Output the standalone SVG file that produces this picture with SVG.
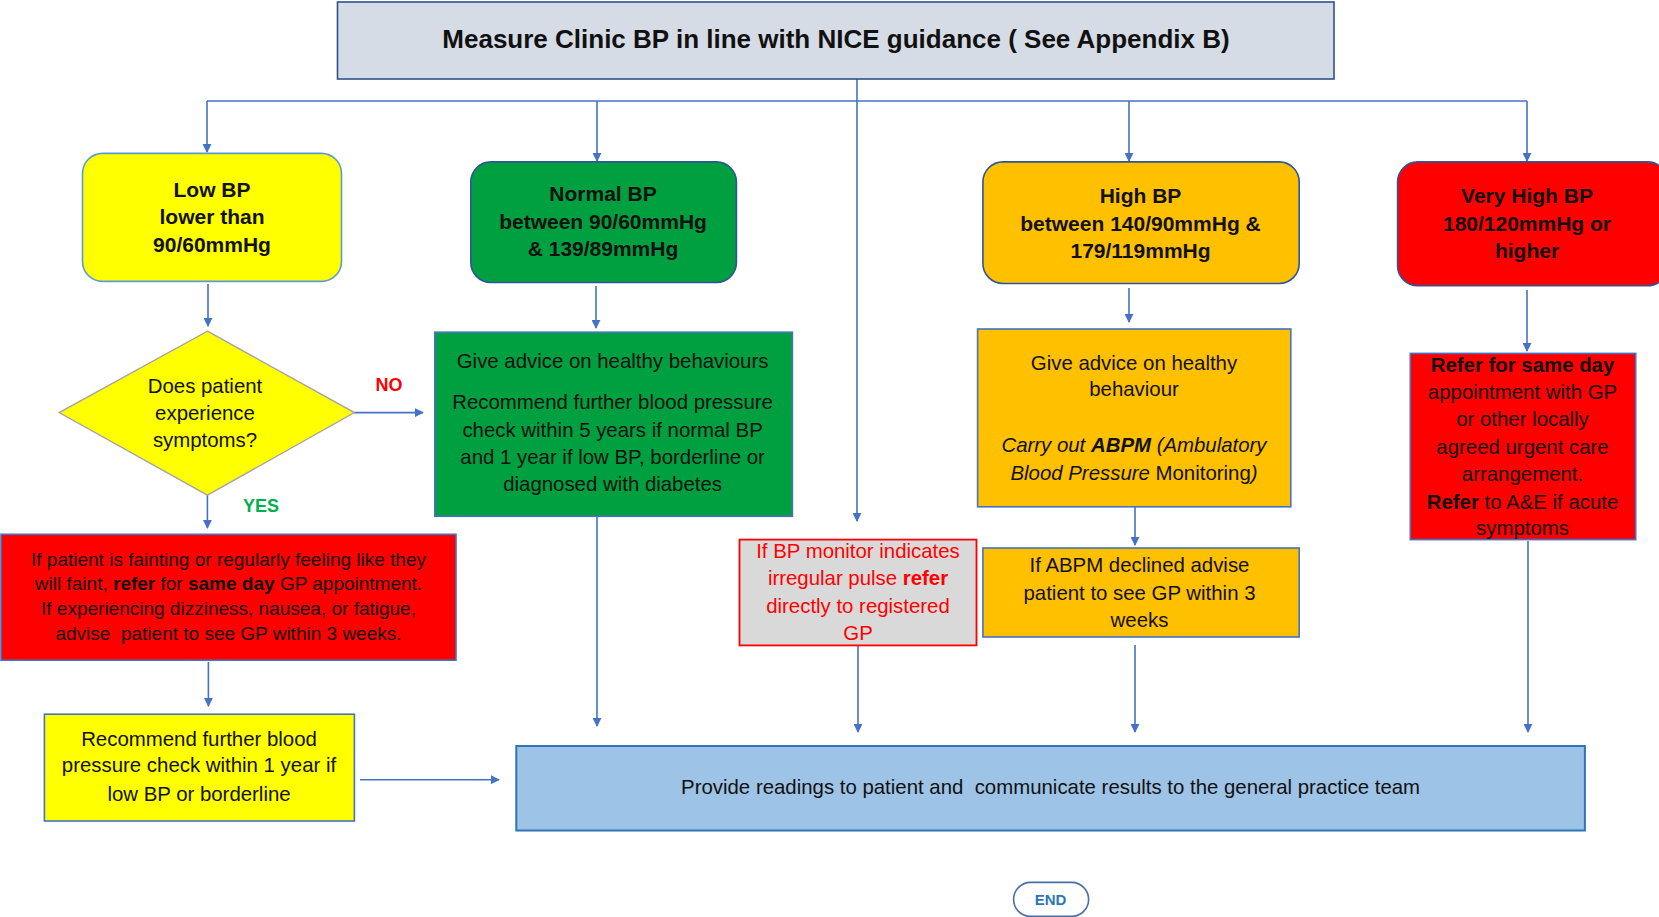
<svg xmlns="http://www.w3.org/2000/svg" width="1659" height="917" viewBox="0 0 1659 917">
<defs>
<marker id="ah" viewBox="0 0 10 10" refX="9" refY="5" markerWidth="9" markerHeight="9" orient="auto" markerUnits="userSpaceOnUse">
<path d="M0,0 L10,5 L0,10 z" fill="#4472C4"/>
</marker>
<style>
text{font-family:"Liberation Sans",Arial,sans-serif;text-anchor:middle;fill:#111}
.b{font-weight:bold}
.t{font-size:20.4px}
.h{font-size:21px;font-weight:bold}
.con{fill:none;stroke:#4472C4;stroke-width:1.6}
.arr{marker-end:url(#ah)}
.bx{stroke:#4472C4;stroke-width:1.6}
</style>
</defs>
<rect width="1659" height="917" fill="#fff"/>

<g id="connectors">
<line class="con arr" x1="857" y1="79" x2="857" y2="521"/>
<polyline class="con" points="207,101 1527,101"/>
<line class="con arr" x1="207" y1="101" x2="207" y2="152"/>
<line class="con arr" x1="597" y1="101" x2="597" y2="161"/>
<line class="con arr" x1="1129" y1="101" x2="1129" y2="161"/>
<line class="con arr" x1="1527" y1="101" x2="1527" y2="161"/>
<line class="con arr" x1="208" y1="284" x2="208" y2="326"/>
<line class="con arr" x1="596" y1="286" x2="596" y2="328"/>
<line class="con arr" x1="1129" y1="288" x2="1129" y2="322"/>
<line class="con arr" x1="1527" y1="290" x2="1527" y2="351"/>
<line class="con arr" x1="354" y1="412.6" x2="423" y2="412.6"/>
<line class="con arr" x1="207.4" y1="495" x2="207.4" y2="528"/>
<line class="con arr" x1="208.4" y1="662" x2="208.4" y2="706"/>
<line class="con arr" x1="360" y1="779.7" x2="499" y2="779.7"/>
<line class="con arr" x1="597" y1="516" x2="597" y2="726"/>
<line class="con arr" x1="858" y1="645" x2="858" y2="732"/>
<line class="con arr" x1="1135" y1="507" x2="1135" y2="545"/>
<line class="con arr" x1="1135" y1="645" x2="1135" y2="732"/>
<line class="con arr" x1="1528" y1="541" x2="1528" y2="732"/>
</g>

<g id="start">
<rect x="337.5" y="2" width="996.5" height="77" fill="#D6DCE5" stroke="#2F528F" stroke-width="1.6"/>
<text x="836" y="48" class="b" style="font-size:26px">Measure Clinic BP in line with NICE guidance ( See Appendix B)</text>
</g>

<g id="lowbp">
<rect x="82.5" y="153.4" width="259" height="128" rx="20" fill="#FFFF00" stroke="#5B9BD5" stroke-width="1.6"/>
<text class="h" x="212" y="196.5">Low BP</text>
<text class="h" x="212" y="223.5">lower than</text>
<text class="h" x="212" y="251.5">90/60mmHg</text>
</g>

<g id="normalbp">
<rect x="470.8" y="161.9" width="265.6" height="120.6" rx="20" fill="#00A040" stroke="#2F5597" stroke-width="1.6"/>
<text class="h" x="603" y="201">Normal BP</text>
<text class="h" x="603" y="228.5">between 90/60mmHg</text>
<text class="h" x="603" y="256">&amp; 139/89mmHg</text>
</g>

<g id="highbp">
<rect x="982.9" y="161.9" width="316.3" height="121.6" rx="20" fill="#FFC000" stroke="#2F5597" stroke-width="1.6"/>
<text class="h" x="1140.5" y="203">High BP</text>
<text class="h" x="1140.5" y="230.5">between 140/90mmHg &amp;</text>
<text class="h" x="1140.5" y="258">179/119mmHg</text>
</g>

<g id="veryhighbp">
<rect x="1397.6" y="161.9" width="270" height="123.8" rx="20" fill="#FF0000" stroke="#2F5597" stroke-width="1.6"/>
<text class="h" x="1527" y="203">Very High BP</text>
<text class="h" x="1527" y="230.5">180/120mmHg or</text>
<text class="h" x="1527" y="258">higher</text>
</g>

<g id="symptoms">
<polygon points="207.4,331.2 354.4,412.6 207.4,495.1 59.2,412.6" fill="#FFFF00" stroke="#A5A5A5" stroke-width="1.4"/>
<text class="t" x="205" y="393">Does patient</text>
<text class="t" x="205" y="419.6">experience</text>
<text class="t" x="205" y="447">symptoms?</text>
<text class="b" x="389" y="391" style="font-size:18px;fill:#FF0000">NO</text>
<text class="b" x="261" y="511.5" style="font-size:18px;fill:#00B050">YES</text>
</g>

<g id="normaladvice">
<rect class="bx" x="434.8" y="332.2" width="357.6" height="184.1" fill="#00A040" stroke="#2F5597"/>
<text class="t" x="612.6" y="367.8">Give advice on healthy behaviours</text>
<text class="t" x="612.6" y="409">Recommend further blood pressure</text>
<text class="t" x="612.6" y="436.5">check within 5 years if normal BP</text>
<text class="t" x="612.6" y="464">and 1 year if low BP, borderline or</text>
<text class="t" x="612.6" y="490.5">diagnosed with diabetes</text>
</g>

<g id="highadvice">
<rect class="bx" x="977.6" y="329" width="313.2" height="177.8" fill="#FFC000" stroke="#5B9BD5"/>
<text class="t" x="1134" y="370">Give advice on healthy</text>
<text class="t" x="1134" y="396">behaviour</text>
<text class="t" x="1134" y="452.4" font-style="italic">Carry out <tspan font-weight="bold">ABPM</tspan> (Ambulatory</text>
<text class="t" x="1134" y="480"><tspan font-style="italic">Blood Pressure</tspan> Monitoring<tspan font-style="italic">)</tspan></text>
</g>

<g id="veryhighrefer">
<rect class="bx" x="1410.3" y="353.4" width="225.4" height="186.2" fill="#FF0000" stroke="#2F5597"/>
<text class="t" x="1522.5" y="372"><tspan font-weight="bold">Refer for same day</tspan></text>
<text class="t" x="1522.5" y="398.5">appointment with GP</text>
<text class="t" x="1522.5" y="426">or other locally</text>
<text class="t" x="1522.5" y="453.5">agreed urgent care</text>
<text class="t" x="1522.5" y="481">arrangement.</text>
<text class="t" x="1522.5" y="508.5"><tspan font-weight="bold">Refer</tspan> to A&amp;E if acute</text>
<text class="t" x="1522.5" y="535">symptoms</text>
</g>

<g id="faintrefer">
<rect class="bx" x="1" y="534.3" width="455" height="125.9" fill="#FF0000" stroke="#2F5597"/>
<text x="228.5" y="565.6" style="font-size:19px">If patient is fainting or regularly feeling like they</text>
<text x="228.5" y="590" style="font-size:19px">will faint, <tspan font-weight="bold">refer</tspan> for <tspan font-weight="bold">same day</tspan> GP appointment.</text>
<text x="228.5" y="615.4" style="font-size:19px">If experiencing dizziness, nausea, or fatigue,</text>
<text x="228.5" y="639.7" style="font-size:19px" xml:space="preserve">advise  patient to see GP within 3 weeks.</text>
</g>

<g id="recheck">
<rect class="bx" x="44.4" y="714.2" width="310" height="106.8" fill="#FFFF00" stroke="#2F5597"/>
<text class="t" x="199" y="745.5">Recommend further blood</text>
<text class="t" x="199" y="772">pressure check within 1 year if</text>
<text class="t" x="199" y="800.5">low BP or borderline</text>
</g>

<g id="irregular">
<rect x="739.5" y="539.6" width="237" height="105.8" fill="#D9D9D9" stroke="#FF0000" stroke-width="1.8"/>
<text class="t" x="858" y="558" style="fill:#FF0000">If BP monitor indicates</text>
<text class="t" x="858" y="584.7" style="fill:#FF0000">irregular pulse <tspan font-weight="bold">refer</tspan></text>
<text class="t" x="858" y="613" style="fill:#FF0000">directly to registered</text>
<text class="t" x="858" y="639.7" style="fill:#FF0000">GP</text>
</g>

<g id="abpmdeclined">
<rect class="bx" x="982.9" y="548" width="316.3" height="89" fill="#FFC000" stroke="#2F5597"/>
<text class="t" x="1139.5" y="572">If ABPM declined advise</text>
<text class="t" x="1139.5" y="599.5">patient to see GP within 3</text>
<text class="t" x="1139.5" y="627">weeks</text>
</g>

<g id="provide">
<rect x="516.3" y="746" width="1068.6" height="84.5" fill="#9DC3E6" stroke="#2E75B6" stroke-width="2"/>
<text class="t" x="1050.6" y="794" xml:space="preserve">Provide readings to patient and  communicate results to the general practice team</text>
</g>

<g id="end">
<rect x="1013.6" y="882.4" width="75" height="34" rx="17" fill="#FFFFFF" stroke="#4A6FA5" stroke-width="1.6"/>
<text x="1050.6" y="904.5" class="b" style="font-size:15px;fill:#2E75B6">END</text>
</g>
</svg>
